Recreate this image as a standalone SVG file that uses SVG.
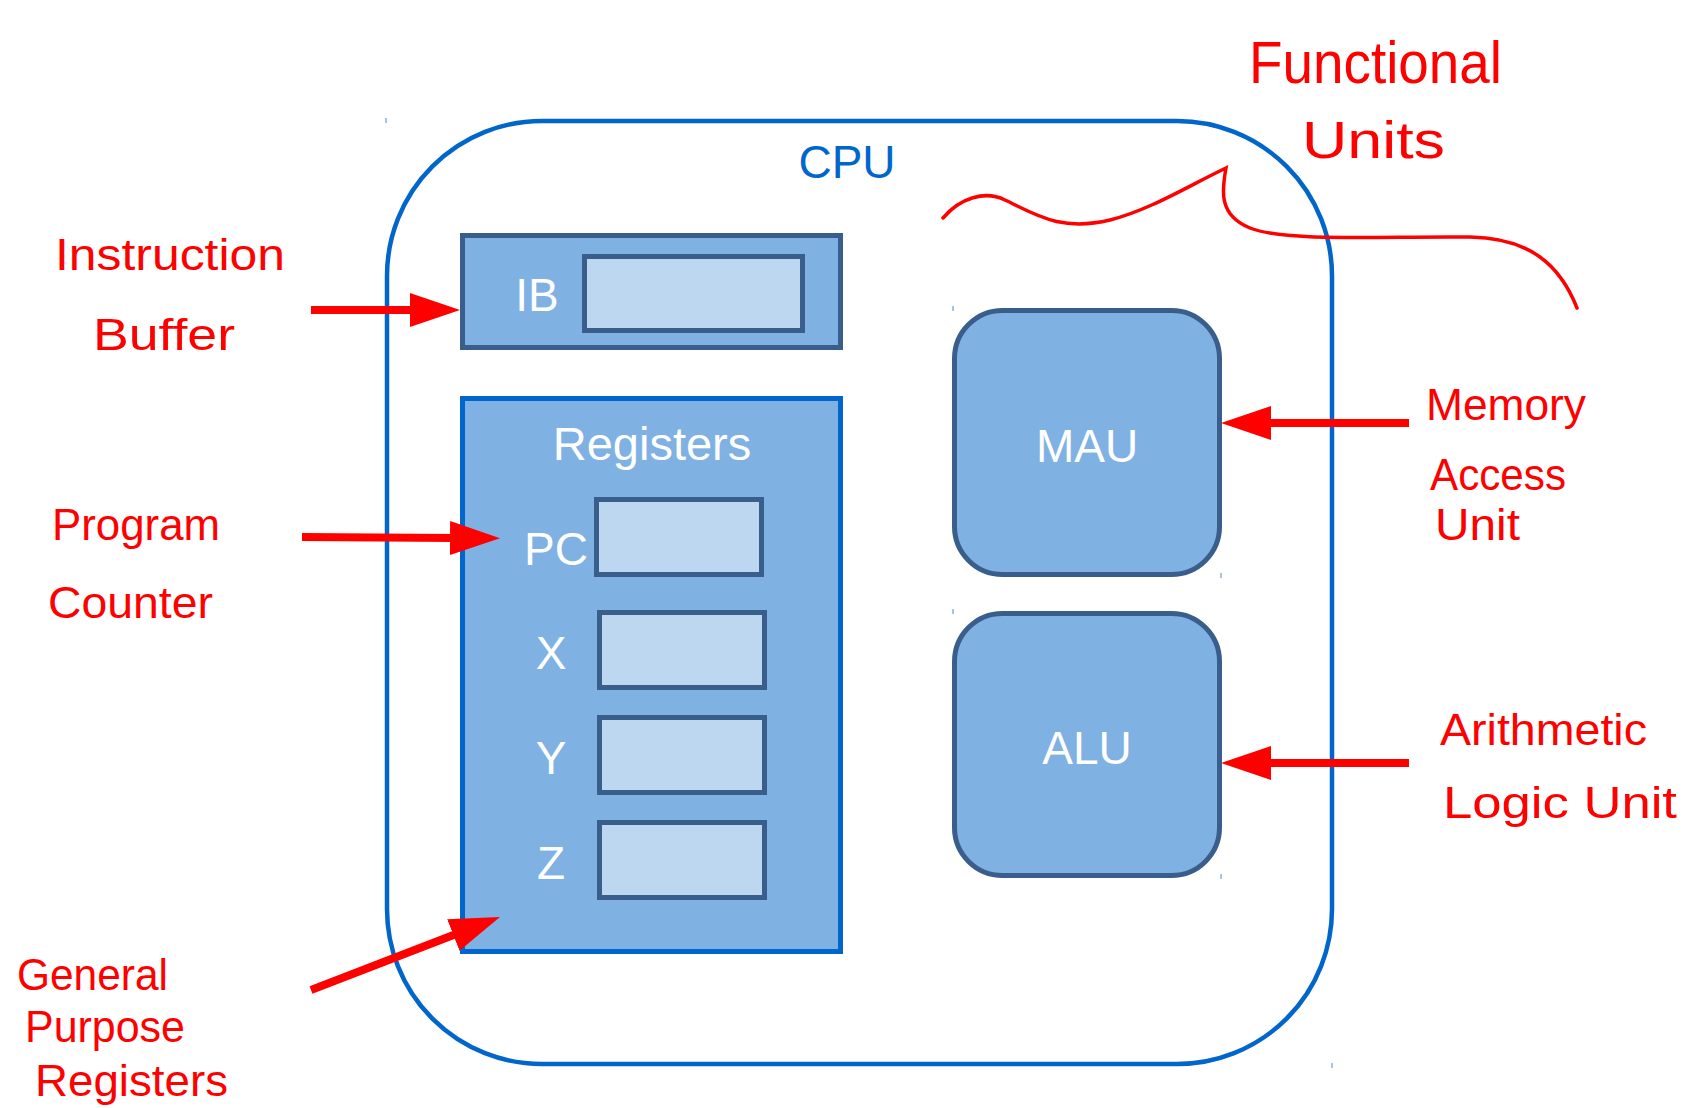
<svg xmlns="http://www.w3.org/2000/svg" width="1688" height="1108" viewBox="0 0 1688 1108">
<style>
.box{fill:#80B1E3;stroke:#3A5E8C;stroke-width:5}
.blue{fill:#80B1E3;stroke:#0066CC;stroke-width:5}
.cell{fill:#BED7F0;stroke:#3A5E8C;stroke-width:5}
.lbl{font-family:"Liberation Sans",Arial,sans-serif;font-size:46px;fill:#FFFFFF}
.hand{font-family:"Liberation Sans",Arial,sans-serif;font-size:44px;fill:#FF0000}
.arr{stroke:#FF0000;stroke-width:8;fill:none;marker-end:url(#ah)}
.tick{stroke:#6F9BD0;stroke-width:1.2}
</style>
<defs>
<marker id="ah" viewBox="0 0 50 34" refX="5" refY="17" markerWidth="50" markerHeight="34" markerUnits="userSpaceOnUse" orient="auto">
<path d="M0,0 L50,17 L0,34 z" fill="#FF0000"/>
</marker>
</defs>
<rect width="1688" height="1108" fill="#FFFFFF"/>

<g id="cpu">
<rect x="387" y="121" width="945" height="943" rx="155" ry="155" fill="#FFFFFF" stroke="#0066CC" stroke-width="4.5"/>
<text x="847" y="178" text-anchor="middle" style="font-family:'Liberation Sans',Arial,sans-serif;font-size:46px;fill:#0066CC">CPU</text>
</g>

<g id="ib">
<rect class="box" x="462.5" y="235.5" width="378" height="112"/>
<rect class="cell" x="584.5" y="256.5" width="218" height="74"/>
<text class="lbl" x="537" y="311" text-anchor="middle">IB</text>
</g>

<g id="registers">
<rect class="blue" x="462.5" y="398.5" width="378" height="553"/>
<text class="lbl" x="652" y="460" text-anchor="middle" style="font-size:47px">Registers</text>
<g id="pc">
<rect class="cell" x="596.5" y="499.5" width="165" height="75"/>
<text class="lbl" x="556" y="565" text-anchor="middle">PC</text>
</g>
<g id="x">
<rect class="cell" x="599.5" y="612.5" width="165" height="75"/>
<text class="lbl" x="551" y="669" text-anchor="middle">X</text>
</g>
<g id="y">
<rect class="cell" x="599.5" y="717.5" width="165" height="75"/>
<text class="lbl" x="551" y="774" text-anchor="middle">Y</text>
</g>
<g id="z">
<rect class="cell" x="599.5" y="822.5" width="165" height="75"/>
<text class="lbl" x="551" y="879" text-anchor="middle">Z</text>
</g>
</g>

<g id="mau">
<rect class="box" x="954.5" y="310.5" width="265" height="264" rx="48" ry="48"/>
<text class="lbl" x="1087" y="462" text-anchor="middle">MAU</text>
</g>

<g id="alu">
<rect class="box" x="954.5" y="613.5" width="265" height="262" rx="48" ry="48"/>
<text class="lbl" x="1087" y="764" text-anchor="middle">ALU</text>
</g>

<g id="ticks">
<line class="tick" x1="386" y1="118" x2="386" y2="123"/>
<line class="tick" x1="953" y1="306" x2="953" y2="311"/>
<line class="tick" x1="1221" y1="573" x2="1221" y2="578"/>
<line class="tick" x1="953" y1="609" x2="953" y2="614"/>
<line class="tick" x1="1221" y1="874" x2="1221" y2="879"/>
<line class="tick" x1="1332" y1="1063" x2="1332" y2="1068"/>
</g>

<g id="connectors">
<line class="arr" x1="311" y1="310" x2="415" y2="310"/>
<line class="arr" x1="302" y1="537" x2="455" y2="538"/>
<line class="arr" x1="311" y1="990" x2="458" y2="933.2"/>
<line class="arr" x1="1409" y1="423" x2="1266" y2="423"/>
<line class="arr" x1="1409" y1="763" x2="1266" y2="763"/>
<path d="M943,218 C960,198 985,190 1005,200 C1035,214 1060,232 1110,220 C1150,210 1190,185 1226,168 C1222,190 1218,215 1250,228 C1285,242 1380,236 1470,237 C1530,238 1560,265 1577,308" fill="none" stroke="#FF0000" stroke-width="3.5" stroke-linecap="round"/>
</g>

<g id="annotations">
<text class="hand" x="55" y="270" textLength="230" lengthAdjust="spacingAndGlyphs">Instruction</text>
<text class="hand" x="93" y="350" textLength="142" lengthAdjust="spacingAndGlyphs">Buffer</text>
<text class="hand" x="52" y="540" textLength="168" lengthAdjust="spacingAndGlyphs">Program</text>
<text class="hand" x="48" y="618" textLength="165" lengthAdjust="spacingAndGlyphs">Counter</text>
<text class="hand" x="17" y="990" textLength="151" lengthAdjust="spacingAndGlyphs">General</text>
<text class="hand" x="25" y="1042" textLength="160" lengthAdjust="spacingAndGlyphs">Purpose</text>
<text class="hand" x="35" y="1096" textLength="193" lengthAdjust="spacingAndGlyphs">Registers</text>
<text class="hand" x="1249" y="83" textLength="253" lengthAdjust="spacingAndGlyphs" style="font-size:60px">Functional</text>
<text class="hand" x="1302" y="158" textLength="143" lengthAdjust="spacingAndGlyphs" style="font-size:52px">Units</text>
<text class="hand" x="1426" y="420" textLength="160" lengthAdjust="spacingAndGlyphs">Memory</text>
<text class="hand" x="1430" y="490" textLength="136" lengthAdjust="spacingAndGlyphs">Access</text>
<text class="hand" x="1435" y="540" textLength="85" lengthAdjust="spacingAndGlyphs">Unit</text>
<text class="hand" x="1440" y="745" textLength="207" lengthAdjust="spacingAndGlyphs">Arithmetic</text>
<text class="hand" x="1443" y="818" textLength="234" lengthAdjust="spacingAndGlyphs">Logic Unit</text>
</g>
</svg>
